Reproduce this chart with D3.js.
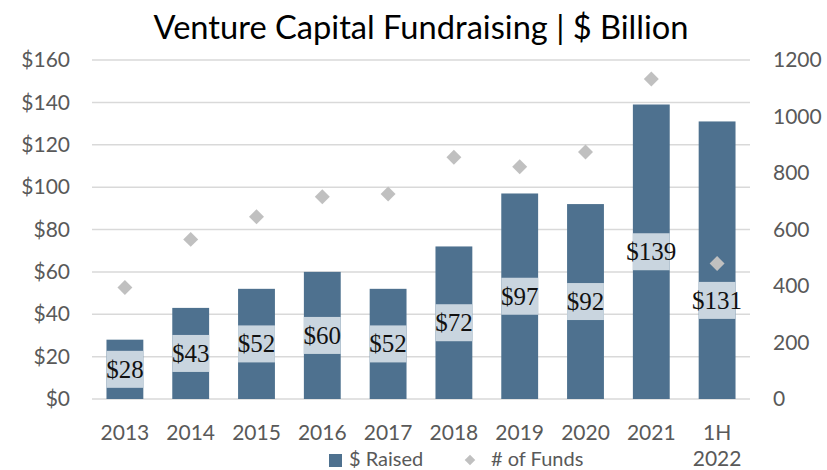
<!DOCTYPE html>
<html>
<head>
<meta charset="utf-8">
<script src="https://cdn.jsdelivr.net/npm/d3@7"></script>
<style>
  html, body { margin: 0; padding: 0; background: #ffffff; }
  svg { display: block; }
</style>
</head>
<body>
<svg id="chart" width="827" height="470"></svg>
<script>
// Venture capital fundraising by year
const categories = ["2013", "2014", "2015", "2016", "2017", "2018", "2019", "2020", "2021", "1H 2022"];
const raised = [28, 43, 52, 60, 52, 72, 97, 92, 139, 131];          // $ billion
const funds = [395, 565, 645, 716, 726, 856, 822, 874, 1133, 480];   // number of funds
const leftTicks = [0, 20, 40, 60, 80, 100, 120, 140, 160];
const rightTicks = [0, 200, 400, 600, 800, 1000, 1200];

const svg = d3.select("#chart");
const plot = { left: 92, right: 750, top: 60, bottom: 399 };

const sansFont = "Lato, 'Open Sans', sans-serif";
const serifFont = "'Liberation Serif', 'DejaVu Serif', serif";
const axisColor = "#595959";
const barColor = "#4e718f";
const labelFill = "#c9d5df";
const diamondColor = "#c0c0c0";
const gridColor = "#d9d9d9";

const x = d3.scaleBand()
  .domain(categories)
  .range([plot.left, plot.right])
  .paddingInner(0.44)
  .paddingOuter(0.22);

const yLeft = d3.scaleLinear().domain([0, 160]).range([plot.bottom, plot.top]);
const yRight = d3.scaleLinear().domain([0, 1200]).range([plot.bottom, plot.top]);
const cx = c => x(c) + x.bandwidth() / 2;

// Title
svg.append("text")
  .attr("x", (plot.left + plot.right) / 2)
  .attr("y", 39)
  .attr("text-anchor", "middle")
  .attr("font-family", sansFont)
  .attr("font-size", 32)
  .attr("fill", "#000000")
  .attr("textLength", 535)
  .attr("lengthAdjust", "spacingAndGlyphs")
  .text("Venture Capital Fundraising | $ Billion");

// Horizontal gridlines
svg.append("g")
  .selectAll("line")
  .data(leftTicks)
  .join("line")
  .attr("x1", plot.left)
  .attr("x2", plot.right)
  .attr("y1", d => yLeft(d))
  .attr("y2", d => yLeft(d))
  .attr("stroke", gridColor)
  .attr("stroke-width", 1.5);

// Left axis ($)
const leftAxis = svg.append("g")
  .attr("transform", `translate(${plot.left - 22},0)`)
  .call(d3.axisLeft(yLeft).tickValues(leftTicks).tickFormat(d => "$" + d).tickSize(0).tickPadding(0));
leftAxis.select(".domain").remove();
leftAxis.selectAll("text")
  .attr("font-family", sansFont)
  .attr("font-size", 21)
  .attr("fill", axisColor);

// Right axis (# of funds)
const rightAxis = svg.append("g")
  .attr("transform", `translate(${plot.right + 23},0)`)
  .call(d3.axisRight(yRight).tickValues(rightTicks).tickFormat(d3.format("d")).tickSize(0).tickPadding(0));
rightAxis.select(".domain").remove();
rightAxis.selectAll("text")
  .attr("font-family", sansFont)
  .attr("font-size", 21)
  .attr("fill", axisColor);

// Bars
const barData = categories.map((c, i) => ({ cat: c, value: raised[i], funds: funds[i] }));
svg.append("g")
  .selectAll("rect")
  .data(barData)
  .join("rect")
  .attr("x", d => x(d.cat))
  .attr("width", x.bandwidth())
  .attr("y", d => yLeft(d.value))
  .attr("height", d => yLeft(0) - yLeft(d.value))
  .attr("fill", barColor);

// Value labels, centred in each bar on a light box;
// a label that would sit on top of its diamond is pushed just below it
const labelH = 37;
function labelY(d) {
  const mid = (yLeft(d.value) + yLeft(0)) / 2;
  const dy = yRight(d.funds);
  return Math.abs(dy - mid) < labelH / 2 + 8 ? dy + labelH : mid;
}
const labels = svg.append("g")
  .selectAll("g")
  .data(barData)
  .join("g")
  .attr("transform", d => `translate(${cx(d.cat)},${labelY(d)})`);
labels.append("rect")
  .attr("x", -x.bandwidth() / 2)
  .attr("width", x.bandwidth())
  .attr("y", -labelH / 2)
  .attr("height", labelH)
  .attr("fill", labelFill);
labels.append("text")
  .attr("text-anchor", "middle")
  .attr("y", 8.5)
  .attr("font-family", serifFont)
  .attr("font-size", 25)
  .attr("fill", "#111111")
  .text(d => "$" + d.value);

// # of Funds diamonds
const diamond = d3.symbol().type(d3.symbolSquare).size(112);
svg.append("g")
  .selectAll("path")
  .data(barData)
  .join("path")
  .attr("d", diamond)
  .attr("transform", d => `translate(${cx(d.cat)},${yRight(d.funds)}) rotate(45)`)
  .attr("fill", diamondColor);

// Category labels (two lines for the partial year)
const xLabels = svg.append("g")
  .selectAll("text")
  .data(categories)
  .join("text")
  .attr("x", d => cx(d))
  .attr("y", 440)
  .attr("text-anchor", "middle")
  .attr("font-family", sansFont)
  .attr("font-size", 21)
  .attr("fill", axisColor);
xLabels.each(function(d) {
  const t = d3.select(this);
  d.split(" ").forEach((p, i) => {
    t.append("tspan")
      .attr("x", cx(d))
      .attr("dy", i === 0 ? 0 : 26)
      .text(p);
  });
});

// Legend
const legend = svg.append("g");
legend.append("rect")
  .attr("x", 329).attr("y", 454)
  .attr("width", 13).attr("height", 13)
  .attr("fill", barColor);
legend.append("text")
  .attr("x", 349).attr("y", 466)
  .attr("font-family", sansFont)
  .attr("font-size", 20)
  .attr("fill", axisColor)
  .text("$ Raised");
legend.append("path")
  .attr("d", d3.symbol().type(d3.symbolSquare).size(56))
  .attr("transform", "translate(470,460) rotate(45)")
  .attr("fill", diamondColor);
legend.append("text")
  .attr("x", 491).attr("y", 466)
  .attr("font-family", sansFont)
  .attr("font-size", 20)
  .attr("fill", axisColor)
  .text("# of Funds");
</script>
</body>
</html>
